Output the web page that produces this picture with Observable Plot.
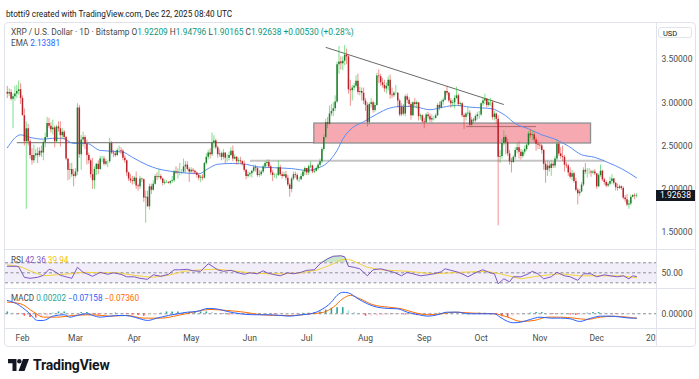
<!DOCTYPE html>
<html><head><meta charset="utf-8">
<script src="https://cdn.jsdelivr.net/npm/d3@7"></script>
<script src="https://cdn.jsdelivr.net/npm/@observablehq/plot@0.6"></script>
<style>
body{margin:0;background:#fff;font-family:Roboto,"Noto Sans",sans-serif;}
#root{position:relative;width:699px;height:379px;overflow:hidden;background:#fff;}
</style></head><body><div id="root"></div>
<script>
// ---------- DATA ----------
const titleText = "btotti9 created with TradingView.com, Dec 22, 2025 08:40 UTC";
const symbolText = "XRP / U.S. Dollar · 1D · Bitstamp";
const ohlcLabels = [["O","1.92209"],["H","1.94796"],["L","1.90165"],["C","1.92638"]];
const changeText = "+0.00530 (+0.28%)";
const emaLegend = ["EMA","2.13381"];
const rsiLegend = ["RSI","42.36","39.94"];
const macdLegend = ["MACD","0.00202","\u22120.07158","\u22120.07360"];
const startDay = [2025, 0, 24]; // first candle date
const firstOpen = 3.12;
const closes = [
3.10,3.12,3.04,3.07,3.10,3.13,3.15,3.05,
2.85,2.55,2.70,2.55,2.39,2.33,2.39,2.41,2.39,2.44,2.42,2.54,2.60,2.76,2.73,2.69,2.71,2.55,2.72,2.70,2.62,2.66,2.60,2.35,2.22,2.23,2.17,2.15,
2.20,2.94,2.40,2.57,2.60,2.52,2.39,2.33,2.17,2.10,2.23,2.29,2.23,2.35,2.35,2.29,2.32,2.32,2.53,2.42,2.41,2.39,2.45,2.45,2.44,2.36,2.33,2.19,2.12,2.10,2.09,
2.13,2.04,2.03,2.12,2.11,1.90,1.91,1.80,2.03,1.99,2.06,2.15,2.14,2.15,2.12,2.07,2.08,2.08,2.07,2.09,2.10,2.20,2.19,2.20,2.20,2.20,2.26,2.28,2.23,2.20,
2.22,2.21,2.19,2.16,2.13,2.14,2.13,2.30,2.37,2.42,2.40,2.54,2.56,2.48,2.40,2.41,2.37,2.42,2.36,2.36,2.39,2.44,2.35,2.37,2.32,2.33,2.32,2.29,2.22,2.15,2.17,
2.18,2.21,2.25,2.24,2.16,2.17,2.20,2.26,2.30,2.31,2.26,2.19,2.16,2.16,2.16,2.25,2.17,2.15,2.17,2.13,2.05,2.00,2.12,2.17,2.16,2.11,2.11,2.15,2.20,2.24,
2.19,2.26,2.27,2.20,2.21,2.24,2.28,2.32,2.46,2.60,2.77,2.75,2.87,2.90,2.93,3.01,3.44,3.47,3.45,3.48,3.55,3.53,3.15,3.14,3.17,3.19,3.25,3.12,3.13,3.11,3.02,
2.97,2.77,2.98,3.00,2.91,2.97,3.31,3.30,3.23,3.20,3.16,3.19,3.26,3.09,3.08,3.11,3.11,3.02,2.86,2.95,2.87,3.07,3.03,2.98,2.85,3.00,2.98,3.00,2.84,2.85,2.78,
2.77,2.86,2.84,2.80,2.82,2.82,2.85,2.97,2.94,3.01,3.03,3.13,3.11,3.02,2.99,3.00,3.05,3.08,2.98,2.99,2.85,2.83,2.87,2.88,2.74,2.80,2.79,2.84,2.86,2.86,
2.99,3.02,3.04,2.97,3.00,3.00,2.83,2.87,2.81,2.37,2.38,2.53,2.60,2.54,2.41,2.32,2.31,2.37,2.45,2.48,2.43,2.38,2.43,2.46,2.51,2.64,2.62,2.63,2.57,2.52,2.51,
2.50,2.45,2.29,2.22,2.27,2.24,2.29,2.27,2.35,2.52,2.41,2.38,2.37,2.28,2.27,2.19,2.14,2.18,2.09,1.99,1.95,1.97,2.05,2.22,2.20,2.20,2.20,2.19,2.20,2.18,
2.03,2.16,2.21,2.11,2.08,2.04,2.06,2.09,2.12,2.07,2.02,2.01,2.03,2.01,1.90,1.88,1.82,1.83,1.91,1.93,1.922,1.92638];
const highs = [
3.19,3.16,3.15,3.10,3.19,3.20,3.25,3.22,
3.08,2.93,2.78,2.75,2.58,2.47,2.51,2.46,2.48,2.48,2.50,2.56,2.65,2.83,2.82,2.77,2.80,2.73,2.74,2.78,2.78,2.70,2.68,2.61,2.35,2.30,2.30,2.23,
2.24,2.99,2.97,2.62,2.66,2.62,2.57,2.42,2.35,2.36,2.26,2.30,2.33,2.38,2.38,2.38,2.35,2.33,2.59,2.55,2.45,2.44,2.47,2.50,2.48,2.46,2.39,2.34,2.20,2.17,2.15,
2.15,2.20,2.06,2.15,2.13,2.12,1.98,1.98,2.06,2.06,2.10,2.17,2.19,2.23,2.17,2.13,2.11,2.10,2.09,2.10,2.15,2.22,2.26,2.24,2.30,2.23,2.35,2.32,2.32,2.25,
2.25,2.24,2.22,2.20,2.18,2.16,2.17,2.31,2.41,2.45,2.47,2.65,2.62,2.58,2.50,2.46,2.43,2.46,2.41,2.40,2.43,2.48,2.50,2.40,2.38,2.36,2.37,2.33,2.33,2.23,2.20,
2.20,2.22,2.28,2.28,2.26,2.22,2.22,2.28,2.32,2.34,2.34,2.28,2.22,2.18,2.18,2.33,2.28,2.20,2.20,2.21,2.16,2.07,2.14,2.20,2.20,2.18,2.14,2.18,2.22,2.26,
2.24,2.28,2.32,2.28,2.23,2.26,2.30,2.35,2.48,2.63,2.81,2.83,2.96,2.98,3.00,3.08,3.47,3.65,3.53,3.53,3.66,3.62,3.55,3.26,3.20,3.22,3.31,3.33,3.18,3.17,3.17,
3.05,3.00,3.00,3.05,3.02,3.00,3.34,3.38,3.33,3.28,3.26,3.23,3.30,3.32,3.17,3.13,3.20,3.12,3.04,2.99,2.98,3.09,3.10,3.06,3.00,3.01,3.05,3.02,3.00,2.87,2.86,
2.82,2.88,2.89,2.87,2.86,2.84,2.87,2.99,3.01,3.03,3.05,3.14,3.19,3.12,3.05,3.03,3.08,3.18,3.10,3.01,3.00,2.87,2.89,2.95,2.91,2.83,2.82,2.86,2.89,2.90,
3.00,3.06,3.10,3.05,3.04,3.05,3.02,2.90,2.88,2.85,2.45,2.58,2.68,2.62,2.58,2.45,2.36,2.39,2.48,2.53,2.55,2.46,2.45,2.50,2.53,2.67,2.69,2.68,2.66,2.60,2.56,
2.53,2.52,2.46,2.32,2.33,2.32,2.33,2.32,2.38,2.57,2.54,2.48,2.50,2.39,2.31,2.29,2.25,2.22,2.20,2.13,2.01,2.00,2.08,2.25,2.30,2.24,2.24,2.22,2.22,2.23,
2.18,2.18,2.28,2.22,2.13,2.10,2.08,2.14,2.17,2.13,2.08,2.06,2.05,2.04,2.03,1.93,1.94,1.87,1.93,1.94,1.95,1.94796];
const lows = [
3.05,3.07,3.02,2.70,3.02,3.05,3.09,2.98,
2.88,2.50,1.77,2.50,2.35,2.28,2.30,2.36,2.30,2.37,2.37,2.33,2.48,2.58,2.70,2.65,2.63,2.48,2.53,2.66,2.49,2.58,2.57,2.33,2.10,2.11,2.14,2.03,
2.13,2.16,2.36,2.22,2.49,2.46,2.28,2.29,2.13,2.00,2.00,2.16,2.17,2.22,2.31,2.27,2.27,2.25,2.30,2.40,2.37,2.37,2.38,2.42,2.40,2.33,2.30,2.15,2.09,2.07,2.05,
2.06,2.00,1.98,2.00,2.08,1.85,1.61,1.79,1.76,1.94,1.98,2.05,2.10,2.12,2.10,2.04,2.05,2.07,2.06,2.05,2.07,2.08,2.17,2.12,2.16,2.17,2.18,2.18,2.21,2.08,
2.18,2.18,2.17,2.13,2.10,2.08,2.10,2.12,2.28,2.34,2.35,2.38,2.47,2.46,2.36,2.37,2.33,2.34,2.29,2.31,2.33,2.38,2.32,2.34,2.28,2.30,2.29,2.27,2.20,2.11,2.13,
2.14,2.13,2.19,2.20,2.14,2.14,2.15,2.18,2.23,2.26,2.24,2.16,2.09,2.13,2.12,2.15,2.15,2.12,2.14,2.10,2.03,1.91,1.96,2.10,2.13,2.09,2.08,2.10,2.14,2.16,
2.16,2.16,2.24,2.18,2.18,2.20,2.22,2.26,2.30,2.44,2.58,2.70,2.74,2.84,2.84,2.90,2.99,3.33,3.38,3.37,3.43,3.44,3.10,2.96,3.02,3.14,3.17,3.09,3.08,3.02,2.98,
2.90,2.72,2.74,2.94,2.88,2.89,2.96,3.22,3.19,3.17,3.12,3.10,3.14,3.04,3.05,3.06,3.09,2.94,2.84,2.84,2.85,2.84,2.99,2.95,2.80,2.84,2.95,2.93,2.79,2.80,2.76,
2.70,2.76,2.81,2.77,2.76,2.79,2.81,2.84,2.91,2.93,2.97,3.02,3.08,3.00,2.94,2.95,2.93,3.04,2.96,2.95,2.83,2.69,2.79,2.84,2.72,2.71,2.76,2.77,2.80,2.81,
2.84,2.96,2.98,2.94,2.95,2.96,2.80,2.79,2.75,1.58,2.30,2.35,2.50,2.40,2.38,2.28,2.19,2.30,2.34,2.41,2.35,2.34,2.36,2.40,2.44,2.50,2.59,2.56,2.54,2.44,2.46,
2.46,2.41,2.22,2.07,2.15,2.20,2.15,2.24,2.24,2.33,2.38,2.35,2.32,2.20,2.24,2.15,2.12,2.10,2.07,1.97,1.82,1.92,1.96,2.03,2.17,2.13,2.17,2.14,2.17,2.16,
2.00,2.02,2.14,2.09,2.05,2.02,2.02,2.04,2.06,2.05,1.98,1.98,2.00,1.99,1.88,1.85,1.80,1.77,1.81,1.90,1.88,1.90165];
const lastOpen = 1.92209;
// EMA
const emaPoints = [["2025-01-24",2.48],["2025-01-31",2.63],["2025-02-05",2.60],["2025-02-12",2.58],["2025-02-17",2.59],["2025-02-22",2.59],["2025-02-28",2.53],["2025-03-07",2.53],["2025-03-14",2.45],["2025-03-21",2.44],["2025-03-26",2.43],["2025-03-31",2.37],["2025-04-08",2.28],["2025-04-13",2.24],["2025-04-20",2.21],["2025-04-28",2.19],["2025-05-05",2.18],["2025-05-10",2.24],["2025-05-15",2.29],["2025-05-23",2.30],["2025-05-30",2.29],["2025-06-05",2.26],["2025-06-14",2.25],["2025-06-23",2.24],["2025-07-01",2.22],["2025-07-06",2.24],["2025-07-12",2.31],["2025-07-17",2.45],["2025-07-20",2.58],["2025-07-25",2.71],["2025-07-31",2.78],["2025-08-07",2.87],["2025-08-14",2.94],["2025-08-21",2.96],["2025-08-28",2.95],["2025-09-04",2.92],["2025-09-11",2.95],["2025-09-18",2.97],["2025-09-25",2.95],["2025-10-02",2.94],["2025-10-07",2.93],["2025-10-11",2.89],["2025-10-14",2.85],["2025-10-19",2.76],["2025-10-26",2.70],["2025-11-02",2.63],["2025-11-09",2.58],["2025-11-16",2.50],["2025-11-23",2.40],["2025-11-30",2.37],["2025-12-07",2.31],["2025-12-14",2.24],["2025-12-22",2.134]];
// RSI [day index from first candle, value]
const rsiPoints = [[0,63],[5,63],[6,62],[9,41],[12,39],[16,41],[19,45],[22,57],[24,55],[28,45],[32,41],[34,39],[37,61],[40,51],[42,48],[45,43],[49,51],[53,47],[56,50],[60,47],[63,42],[67,42],[70,39],[74,37],[77,46],[81,43],[85,47],[88,56],[91,56],[95,57],[98,54],[102,53],[106,68],[107,66],[111,56],[114,53],[118,55],[122,50],[125,47],[128,50],[132,48],[135,54],[137,50],[140,47],[144,44],[148,50],[151,48],[155,51],[158,55],[162,56],[165,68],[169,78],[172,83],[176,84],[178,82],[180,63],[183,61],[186,58],[190,44],[193,56],[197,58],[201,54],[204,51],[208,44],[211,51],[214,48],[218,44],[222,46],[225,48],[229,52],[231,58],[234,55],[238,51],[241,46],[243,42],[246,48],[250,55],[251,56],[254,51],[257,48],[259,28],[262,38],[265,32],[267,42],[271,42],[275,48],[277,53],[280,48],[283,38],[287,42],[290,51],[294,44],[297,42],[301,35],[304,48],[308,48],[311,42],[315,46],[318,44],[322,42],[325,44],[328,38],[330,44],[332,42.36]];
const rsiMaPoints = [[0,66],[7,62],[14,51],[19,44],[26,46],[33,48],[40,51],[49,50],[58,50],[67,45],[76,41],[85,45],[93,53],[102,56],[111,57],[119,54],[128,50],[137,48],[146,48],[155,50],[164,56],[172,68],[176,76],[180,77],[183,73],[190,61],[197,56],[211,53],[225,48],[239,51],[253,53],[260,48],[271,38],[281,44],[292,48],[302,44],[313,44],[324,44],[332,39.94]];
const macdPoints = [[0,0.217],[5,0.163],[11,0.026],[16,-0.109],[19,-0.109],[24,-0.039],[30,-0.016],[33,-0.055],[37,-0.027],[42,0],[45,-0.027],[49,-0.055],[54,-0.039],[60,-0.027],[65,-0.039],[70,-0.082],[74,-0.109],[79,-0.071],[85,-0.027],[90,0],[95,0.026],[100,0.038],[106,0.087],[111,0.076],[116,0.038],[123,0],[130,-0.016],[137,-0.016],[144,-0.027],[149,-0.039],[155,-0.016],[160,0],[165,0.054],[171,0.19],[174,0.30],[177,0.35],[180,0.34],[185,0.245],[190,0.163],[195,0.108],[201,0.087],[206,0.081],[211,0.026],[217,-0.016],[222,-0.039],[227,-0.016],[232,0.026],[238,0.026],[243,0],[250,0],[257,0],[260,-0.055],[264,-0.125],[267,-0.147],[271,-0.136],[276,-0.092],[281,-0.055],[287,-0.071],[292,-0.071],[297,-0.082],[302,-0.125],[308,-0.071],[313,-0.039],[318,-0.039],[324,-0.055],[329,-0.071],[332,-0.0716]];
const signalPoints = [[0,0.19],[7,0.163],[14,0.026],[19,-0.055],[26,-0.055],[35,-0.027],[45,-0.016],[54,-0.039],[63,-0.027],[72,-0.071],[81,-0.071],[90,-0.027],[98,0.026],[107,0.07],[116,0.054],[125,0.026],[134,-0.016],[143,-0.027],[151,-0.027],[160,0],[167,0.026],[172,0.108],[177,0.245],[181,0.30],[186,0.245],[193,0.146],[201,0.108],[208,0.081],[214,0.026],[222,-0.016],[229,0],[236,0.026],[246,0.01],[257,0],[264,-0.055],[271,-0.125],[278,-0.109],[285,-0.055],[292,-0.055],[299,-0.071],[306,-0.092],[313,-0.055],[320,-0.039],[327,-0.055],[332,-0.0736]];
const histPoints = [[0,0.03],[3,0.01],[6,-0.01],[9,-0.04],[12,-0.06],[15,-0.07],[18,-0.06],[21,-0.04],[24,0.01],[27,0.03],[30,0.03],[33,0.0],[36,0.0],[39,0.02],[42,0.02],[45,-0.01],[48,-0.02],[51,-0.02],[54,0.0],[57,0.01],[60,0.0],[63,-0.01],[66,-0.02],[69,-0.03],[72,-0.04],[75,-0.03],[78,-0.01],[81,0.01],[84,0.03],[87,0.03],[90,0.03],[93,0.02],[96,0.02],[99,0.02],[102,0.03],[105,0.03],[108,0.02],[111,0.0],[114,-0.01],[117,-0.02],[120,-0.02],[123,-0.02],[126,-0.01],[129,-0.01],[132,0.0],[135,0.0],[138,0.0],[141,-0.01],[144,-0.01],[147,-0.01],[150,-0.01],[153,0.0],[156,0.01],[159,0.01],[162,0.02],[165,0.03],[168,0.06],[171,0.09],[174,0.10],[177,0.10],[180,0.05],[183,0.02],[186,0.0],[189,-0.04],[192,-0.04],[195,-0.04],[198,-0.03],[201,-0.02],[204,-0.01],[207,-0.01],[210,-0.02],[213,-0.02],[216,-0.03],[219,-0.03],[222,-0.02],[225,0.0],[228,0.01],[231,0.02],[234,0.02],[237,0.01],[240,0.0],[243,0.0],[246,0.0],[249,0.01],[252,0.01],[255,0.0],[258,-0.02],[261,-0.05],[264,-0.06],[267,-0.04],[270,-0.02],[273,0.0],[276,0.01],[279,0.02],[282,0.02],[285,0.0],[288,-0.01],[291,-0.01],[294,-0.01],[297,-0.02],[300,-0.03],[303,-0.02],[306,0.01],[309,0.02],[312,0.02],[315,0.01],[318,0.0],[321,-0.01],[324,-0.01],[327,-0.01],[330,0.0],[332,0.002]];
const priceTicks = [1.5, 2.0, 2.5, 3.0, 3.5];
const rsiLevels = [70, 50, 30];
const rsiTicks = [50];
const macdTicks = [0];
const monthTicks = ["2025-02-01","2025-03-01","2025-04-01","2025-05-01","2025-06-01","2025-07-01","2025-08-01","2025-09-01","2025-10-01","2025-11-01","2025-12-01","2026-01-01"];
const zones = [{from:"2025-07-05", to:"2025-11-28", low:2.53, high:2.76}];
const levels = [
  {from:"2025-01-29", to:"2025-07-05", price:2.54, kind:"grey"},
  {from:"2025-06-01", to:"2025-12-05", price:2.33, kind:"light"},
  {from:"2025-09-23", to:"2025-10-30", price:2.725, kind:"dark"}];
const trendLines = [{from:"2025-07-11", p1:3.64, to:"2025-10-13", p2:2.98}];

// ---------- BUILD ----------
const root = document.getElementById("root");
function el(tag, css, parent) { const e = document.createElement(tag); e.style.cssText = css; (parent||root).appendChild(e); return e; }
function span(parent, text, color) { const s = el("span", "color:" + color, parent); s.textContent = text; return s; }
const dayDate = i => new Date(Date.UTC(startDay[0], startDay[1], startDay[2] + i));
const xDomain = [new Date(Date.UTC(2025,0,23,1)), new Date(Date.UTC(2026,0,1,13))];

const candles = closes.map((c, i) => {
  const open = i === closes.length - 1 ? lastOpen : (i === 0 ? firstOpen : closes[i-1]);
  return {date: dayDate(i), open, close: c, high: Math.max(highs[i], open, c), low: Math.min(lows[i], open, c)};
});
const ups = candles.filter(d => d.close >= d.open);
const downs = candles.filter(d => d.close < d.open);
const ema = emaPoints.map(([d, v]) => ({date: new Date(d), v}));
const toSeries = arr => arr.map(([i, v]) => ({date: dayDate(i), v}));
const rsi = toSeries(rsiPoints), rsiMa = toSeries(rsiMaPoints);
const macd = toSeries(macdPoints), signal = toSeries(signalPoints);
const hist = toSeries(histPoints).map((d, i, a) => ({...d, prev: i ? a[i-1].v : d.v}));
const histColor = d => d.v >= 0 ? (d.v >= d.prev ? "#26a69a" : "#b2dfdb") : (d.v < d.prev ? "#ff5252" : "#ffcdd2");
const histGroups = ["#26a69a","#b2dfdb","#ff5252","#ffcdd2"].map(c => [c, hist.filter(d => histColor(d) === c)]);

const font = "Roboto, 'Noto Sans', sans-serif";
const axisStyle = {background: "transparent", fontFamily: font, fontSize: "8.5px", color: "#4a4a4a", overflow: "visible"};

const priceChart = Plot.plot({
  width: 690, height: 227, marginLeft: 0, marginRight: 39, marginTop: 0, marginBottom: 0,
  style: axisStyle,
  x: {type: "utc", domain: xDomain, axis: null},
  y: {domain: [1.306, 3.927], axis: null},
  marks: [
    Plot.rect(zones, {x1: d => new Date(d.from), x2: d => new Date(d.to), y1: "low", y2: "high", fill: "#f5a0a8", fillOpacity: 0.9, stroke: "#8f8f8f", strokeWidth: 1.3}),
    Plot.link(levels.filter(d => d.kind === "grey"), {x1: d => new Date(d.from), x2: d => new Date(d.to), y1: "price", y2: "price", stroke: "#8a8a8a", strokeWidth: 1.2}),
    Plot.link(levels.filter(d => d.kind === "light"), {x1: d => new Date(d.from), x2: d => new Date(d.to), y1: "price", y2: "price", stroke: "#c4c4c4", strokeWidth: 2}),
    Plot.link(levels.filter(d => d.kind === "dark"), {x1: d => new Date(d.from), x2: d => new Date(d.to), y1: "price", y2: "price", stroke: "#b0686c", strokeWidth: 1}),
    Plot.link(trendLines, {x1: d => new Date(d.from), x2: d => new Date(d.to), y1: "p1", y2: "p2", stroke: "#6a6a6a", strokeWidth: 1}),
    Plot.line(ema, {x: "date", y: "v", stroke: "#5b8ef5", strokeWidth: 1, curve: "monotone-x"}),
    Plot.ruleX(ups, {x: "date", y1: "low", y2: "high", stroke: "#27c93f", strokeOpacity: 0.6, strokeWidth: 1}),
    Plot.ruleX(downs, {x: "date", y1: "low", y2: "high", stroke: "#e53935", strokeOpacity: 0.55, strokeWidth: 1}),
    Plot.ruleX(ups, {x: "date", y1: "open", y2: "close", stroke: "#237a2f", strokeWidth: 1.5}),
    Plot.ruleX(downs, {x: "date", y1: "open", y2: "close", stroke: "#b8222a", strokeWidth: 1.5}),
    Plot.axisY({anchor: "right", label: null, ticks: priceTicks, tickFormat: d => d.toFixed(5), tickSize: 0, tickPadding: 5, fill: "#4a4a4a"})
  ]
});
priceChart.style.position = "absolute"; priceChart.style.left = "5px"; priceChart.style.top = "22px";
root.appendChild(priceChart);

const rsiChart = Plot.plot({
  width: 690, height: 39, marginLeft: 0, marginRight: 39, marginTop: 0, marginBottom: 0,
  style: axisStyle,
  x: {type: "utc", domain: xDomain, axis: null},
  y: {domain: [18.6, 96.6], axis: null},
  marks: [
    Plot.rect([rsiLevels], {y1: d => d[2], y2: d => d[0], fill: "#7e57c2", fillOpacity: 0.1}),
    Plot.areaY(rsi, {x: "date", y1: rsiLevels[0], y2: d => Math.max(d.v, rsiLevels[0]), fill: "#66bb6a", fillOpacity: 0.35}),
    Plot.ruleY(rsiLevels, {stroke: "#8a8d96", strokeDasharray: "3,2.5", strokeWidth: 1}),
    Plot.line(rsiMa, {x: "date", y: "v", stroke: "#f5d33a", strokeWidth: 1}),
    Plot.line(rsi, {x: "date", y: "v", stroke: "#7e57c2", strokeWidth: 1}),
    Plot.axisY({anchor: "right", label: null, ticks: rsiTicks, tickFormat: d => d.toFixed(2), tickSize: 0, tickPadding: 5, fill: "#4a4a4a"})
  ]
});
rsiChart.style.position = "absolute"; rsiChart.style.left = "5px"; rsiChart.style.top = "249px";
root.appendChild(rsiChart);

const macdChart = Plot.plot({
  width: 690, height: 40, marginLeft: 0, marginRight: 39, marginTop: 0, marginBottom: 0,
  style: axisStyle,
  x: {type: "utc", domain: xDomain, axis: null},
  y: {domain: [-0.240, 0.412], axis: null},
  marks: [
    Plot.ruleY(macdTicks, {stroke: "#8a8d96", strokeDasharray: "3,2.5", strokeWidth: 1}),
    ...histGroups.map(([c, data]) => Plot.ruleX(data, {x: "date", y1: 0, y2: "v", stroke: c, strokeWidth: 1.6})),
    Plot.line(signal, {x: "date", y: "v", stroke: "#ff6d00", strokeWidth: 1, curve: "monotone-x"}),
    Plot.line(macd, {x: "date", y: "v", stroke: "#2962ff", strokeWidth: 1, curve: "monotone-x"}),
    Plot.axisY({anchor: "right", label: null, ticks: macdTicks, tickFormat: d => d.toFixed(5), tickSize: 0, tickPadding: 5, fill: "#4a4a4a"})
  ]
});
macdChart.style.position = "absolute"; macdChart.style.left = "5px"; macdChart.style.top = "288px";
root.appendChild(macdChart);

const timeAxis = Plot.plot({
  width: 651, height: 18, marginLeft: 0, marginRight: 0, marginTop: 0, marginBottom: 18,
  style: {...axisStyle, overflow: "hidden"},
  x: {type: "utc", domain: xDomain},
  marks: [
    Plot.axisX({label: null, ticks: monthTicks.map(d => new Date(d)), tickFormat: d => d.getUTCMonth() === 0 ? String(d.getUTCFullYear()) : d3.utcFormat("%b")(d), tickSize: 0, tickPadding: 6, fill: "#4a4a4a"})
  ]
});
timeAxis.style.position = "absolute"; timeAxis.style.left = "5px"; timeAxis.style.top = "328px";
root.appendChild(timeAxis);

// frame lines
const line = "position:absolute;background:#e0e3eb;";
el("div", "position:absolute;left:4px;top:22px;width:690px;height:323px;border:1px solid #e0e3eb;border-radius:4px;box-sizing:content-box;");
el("div", line + "left:4px;top:249px;width:691px;height:1px;");
el("div", line + "left:4px;top:288px;width:691px;height:1px;");
el("div", line + "left:4px;top:328px;width:691px;height:1px;");
el("div", line + "left:656px;top:22px;width:1px;height:324px;");

// USD box
const usd = el("div", "position:absolute;left:658px;top:27px;width:34px;height:11px;border:1px solid #e0e3eb;border-radius:3px;font-size:7.5px;line-height:11px;color:#131722;padding-left:4px;box-sizing:border-box;");
usd.textContent = "USD";

// last price label
const lastClose = closes[closes.length - 1];
const py = 22 + priceChart.scale("y").apply(lastClose);
const lp = el("div", "position:absolute;left:656px;width:39px;height:11px;background:#131722;color:#fff;font-size:8.5px;line-height:11px;text-align:left;padding-left:4px;box-sizing:border-box;top:" + (py - 5) + "px;");
lp.textContent = lastClose.toFixed(5);

// texts
const t = el("div", "position:absolute;left:6px;top:8px;font-size:8.2px;line-height:12px;color:#131722;white-space:nowrap;");
t.textContent = titleText;
const l1 = el("div", "position:absolute;left:11px;top:25.5px;font-size:8.4px;line-height:12px;color:#4a4a4a;white-space:nowrap;");
span(l1, symbolText + "  ", "#4a4a4a");
ohlcLabels.forEach(([k, v]) => { span(l1, " " + k, "#4a4a4a"); span(l1, v, "#089981"); });
span(l1, " " + changeText, "#089981");
const l2 = el("div", "position:absolute;left:11px;top:36.5px;font-size:8.2px;line-height:12px;white-space:nowrap;");
span(l2, emaLegend[0] + "  ", "#4a4a4a"); span(l2, emaLegend[1], "#2962ff");
const l3 = el("div", "position:absolute;left:11px;top:254px;font-size:8.2px;line-height:12px;white-space:nowrap;");
span(l3, rsiLegend[0] + "  ", "#4a4a4a"); span(l3, rsiLegend[1] + "  ", "#7e57c2"); span(l3, rsiLegend[2], "#f2c200");
const l4 = el("div", "position:absolute;left:11px;top:292px;font-size:8.2px;line-height:12px;white-space:nowrap;");
span(l4, macdLegend[0] + "  ", "#4a4a4a"); span(l4, macdLegend[1] + "  ", "#26a69a"); span(l4, macdLegend[2] + "  ", "#2962ff"); span(l4, macdLegend[3], "#ff6d00");

// TradingView logo
const logo = el("div", "position:absolute;left:8px;top:357px;height:16px;display:flex;align-items:center;gap:4px;");
logo.innerHTML = '<svg width="21" height="12" viewBox="0 0 21 12"><path d="M0 0H8.5V12H4.5V4.2H0Z" fill="#131722"/><circle cx="11.3" cy="2.2" r="2.2" fill="#131722"/><path d="M15 0H21L16.5 12H10.5Z" fill="#131722"/></svg>';
const lt = el("span", "font-size:14px;font-weight:700;color:#131722;letter-spacing:-0.2px;", logo);
lt.textContent = "TradingView";
</script></body></html>
